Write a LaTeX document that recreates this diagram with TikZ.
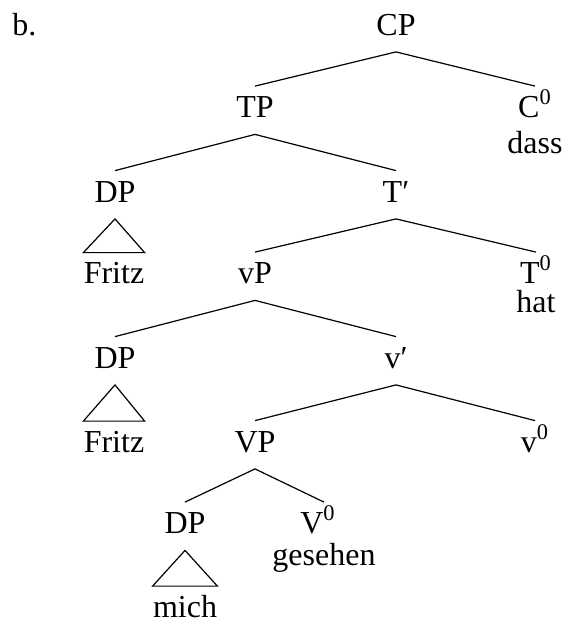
\documentclass[tikz,border=0pt]{standalone}
\usepackage{fontspec}
\setmainfont{Liberation Serif}
\tikzset{
  cat/.style={anchor=base,inner sep=0pt,text height=15.5pt,text depth=8.25pt,font=\fontsize{16}{19}\selectfont},
  lex/.style={anchor=base,inner sep=0pt,font=\fontsize{16}{19}\selectfont},
  roofw/.style={anchor=base,inner sep=0pt,text height=15.25pt,text depth=0pt,font=\fontsize{16}{19}\selectfont},
  br/.style={line width=0.6pt},
  roof/.style={line width=0.6pt,line join=miter},
}

\begin{document}
\begin{tikzpicture}[x=0.5pt,y=-0.5pt]
 \useasboundingbox (0,0) rectangle (564,622);
 \node[lex,anchor=base west] (ex) at (12,35) {b.};
 % CP layer
 \node[cat] (cp) at (396,35) {CP};
 \node[cat] (tp) at (255,117.5) {TP};
 \node[cat] (c0) at (535,117.5) {C\textsuperscript{0}};
 \node[lex] (dass) at ([yshift=-18pt]c0.base) {dass};
 \draw[br] (cp.south)--(tp.north);
 \draw[br] (cp.south)--(c0.north);
 % TP layer
 \node[cat] (dp1) at (115,202) {DP};
 \node[cat] (tbar) at (396,202) {T′};
 \node[roofw] (fritz1) at (114,283.5) {Fritz};
 \draw[br] (tp.south)--(dp1.north);
 \draw[br] (tp.south)--(tbar.north);
 \draw[roof] (dp1.south)--(fritz1.north west)--(fritz1.north east)--cycle;
 \node[cat] (lvp) at (255,283.5) {vP};
 \node[cat] (t0) at (536,283.5) {T\textsuperscript{0}};
 \node[lex] (hat) at ([yshift=-14.5pt]t0.base) {hat};
 \draw[br] (tbar.south)--(lvp.north);
 \draw[br] (tbar.south)--(t0.north);
 % vP layer
 \node[cat] (dp2) at (115,368) {DP};
 \node[cat] (vbar) at (396,368) {v′};
 \node[roofw] (fritz2) at (114,452) {Fritz};
 \draw[br] (lvp.south)--(dp2.north);
 \draw[br] (lvp.south)--(vbar.north);
 \draw[roof] (dp2.south)--(fritz2.north west)--(fritz2.north east)--cycle;
 \node[cat] (vp) at (255,452) {VP};
 \node[cat] (v0) at (535,452) {v\textsuperscript{0}};
 \draw[br] (vbar.south)--(vp.north);
 \draw[br] (vbar.south)--(v0.north);
 % VP layer
 \node[cat] (dp3) at (185,533.5) {DP};
 \node[cat] (vv0) at (318,533.5) {V\textsuperscript{0}};
 \node[lex] (gesehen) at (324,565) {gesehen};
 \node[roofw] (mich) at (185,617) {mich};
 \draw[br] (vp.south)--(dp3.north);
 \draw[br] (vp.south)--(vv0.north -| gesehen);
 \draw[roof] (dp3.south)--(mich.north west)--(mich.north east)--cycle;
\end{tikzpicture}
\end{document}
